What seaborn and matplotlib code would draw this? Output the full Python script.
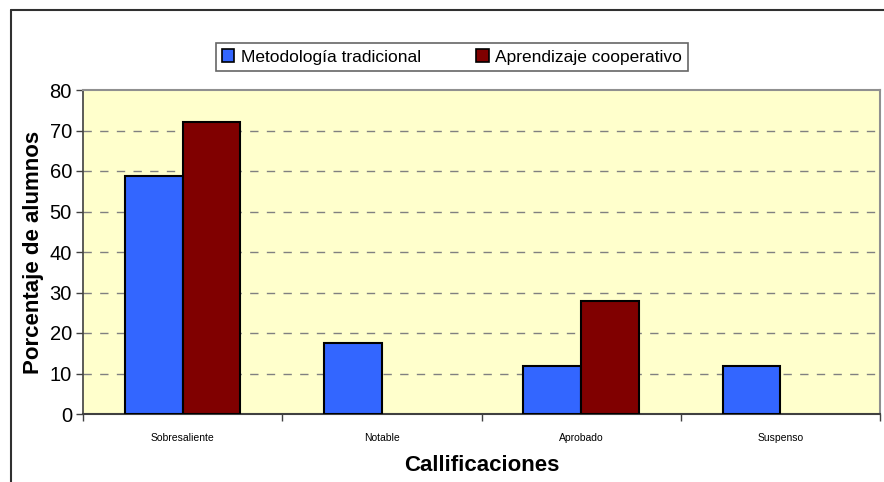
import matplotlib
matplotlib.use("Agg")
import matplotlib.pyplot as plt
import seaborn as sns
import pandas as pd
from matplotlib.lines import Line2D

categorias = ["Sobresaliente", "Notable", "Aprobado", "Suspenso"]
tradicional = [58.8, 17.6, 11.8, 11.8]
cooperativo = [72.2, 0.0, 27.8, 0.0]
series = ["Metodología tradicional", "Aprendizaje cooperativo"]
colores = ["#3366FF", "#800000"]

df = pd.DataFrame({
    "cat": categorias * 2,
    "valor": tradicional + cooperativo,
    "serie": [series[0]] * 4 + [series[1]] * 4,
})

sns.set_style("white")
plt.rcParams["font.family"] = ["Liberation Sans", "DejaVu Sans"]
plt.rcParams["text.color"] = "black"
plt.rcParams["axes.labelcolor"] = "black"
plt.rcParams["xtick.color"] = "black"
plt.rcParams["ytick.color"] = "black"

fig = plt.figure(figsize=(8.84, 4.82), dpi=100)
ax = fig.add_axes([83 / 884, 68 / 482, 797 / 884, 324 / 482])
ax.set_facecolor("#FFFFCC")

sns.barplot(data=df, x="cat", y="valor", hue="serie", palette=colores,
            width=0.58, gap=0, edgecolor="black", linewidth=1.5,
            errorbar=None, ax=ax, zorder=3, saturation=1)
# barras de valor cero sin borde
for p in ax.patches:
    if p.get_height() == 0:
        p.set_linewidth(0)

ax.set_xlim(-0.5, 3.5)
ax.set_ylim(0, 80)
ax.set_yticks(range(0, 81, 10))
for y in range(10, 80, 10):
    ax.axhline(y, color="#808080", lw=1, ls=(0, (6, 6)), zorder=1)

ax.tick_params(axis="y", labelsize=14.5, length=5, width=1, color="#404040",
               direction="out", left=True, pad=3)
ax.set_xticks(range(4))
ax.set_xticklabels(categorias, fontsize=7.5)
ax.tick_params(axis="x", which="major", length=0, pad=14)
ax.set_xticks([-0.5, 0.5, 1.5, 2.5, 3.5], minor=True)
ax.tick_params(axis="x", which="minor", length=5, width=1, color="#404040",
               direction="out", bottom=True)

for s in ["top", "right"]:
    ax.spines[s].set_color("#909090")
    ax.spines[s].set_linewidth(1.5)
ax.spines["left"].set_color("#404040")
ax.spines["bottom"].set_color("#404040")
ax.spines["left"].set_linewidth(1.2)
ax.spines["bottom"].set_linewidth(1.5)

ax.set_ylabel("Porcentaje de alumnos", fontsize=16, fontweight="bold", labelpad=4)
ax.set_xlabel("Callificaciones", fontsize=16, fontweight="bold", labelpad=8)

ax.get_legend().remove()
handles = [plt.Rectangle((0, 0), 1, 1, facecolor=c, edgecolor="black", lw=1.2)
           for c in colores]
leg = fig.legend(handles, series, loc="center", bbox_to_anchor=(452 / 884, 1 - 57 / 482),
                 ncol=2, fontsize=12.5, frameon=True, fancybox=False,
                 handlelength=0.7, handleheight=0.7, handletextpad=0.4,
                 columnspacing=3.2, borderpad=0.35, borderaxespad=0,
                 edgecolor="#404040")
leg.get_frame().set_linewidth(1.2)

# marco del gráfico
fig.add_artist(Line2D([11 / 884, 1], [1 - 10 / 482, 1 - 10 / 482], color="#303030", lw=1.5))
fig.add_artist(Line2D([11 / 884, 11 / 884], [0, 1 - 10 / 482], color="#303030", lw=1.5))

fig.savefig("out.png", dpi=100)
